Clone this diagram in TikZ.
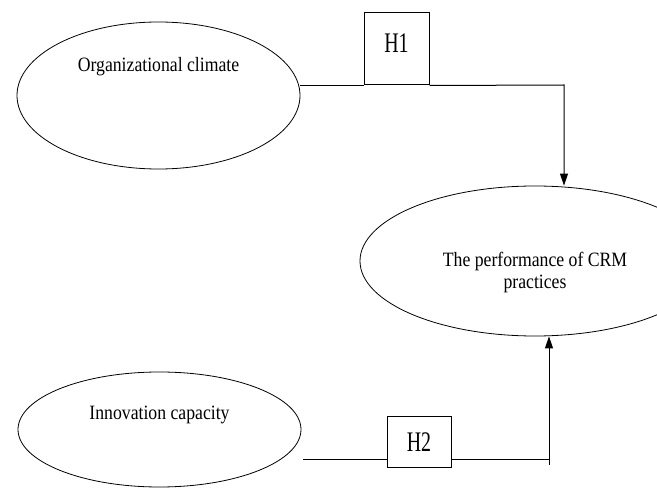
\documentclass[tikz,border=0pt]{standalone}
\usepackage{graphicx}
\usepackage{fontspec}
\setmainfont{Liberation Serif}
\usetikzlibrary{shapes.geometric,arrows.meta}

\newcommand\tall[1]{\scalebox{1}[1.15]{#1}}
\newcommand\taller[1]{\scalebox{0.95}[1.35]{#1}}

\begin{document}
\begin{tikzpicture}[x=1pt, y=1pt, line cap=butt,
  construct/.style={ellipse, draw, line width=0.8pt, inner sep=0pt},
  hypo/.style={rectangle, draw, line width=1pt, fill=white, inner sep=0pt},
  hypotxt/.style={inner sep=0pt, font=\fontsize{21}{24}\selectfont},
  txt/.style={align=center, inner sep=0pt, font=\fontsize{17.7}{22}\selectfont},
  link/.style={line width=1pt}]
  \useasboundingbox (0,0) rectangle (657,488);
  \clip (0,0) rectangle (657,488);
  % constructs
  \node[construct, minimum width=283pt, minimum height=147pt] (oc) at (158.5,392.5) {};
  \node[txt] (octext) at ([yshift=28.5pt]oc.center) {\tall{Organizational climate}};
  \node[construct, minimum width=350pt, minimum height=150pt] (crm) at (535,227) {};
  \node[txt] (crmtext) at ([yshift=-12pt]crm.center) {\tall{The performance of CRM}\\\tall{practices}};
  \node[construct, minimum width=283pt, minimum height=115pt] (ic) at (159.5,58.5) {};
  \node[txt] (ictext) at ([yshift=14.5pt]ic.center) {\tall{Innovation capacity}};
  % hypotheses
  \node[hypo, minimum width=65pt, minimum height=72pt] (h1) at (396.5,439) {};
  \node[hypotxt] (h1text) at ([yshift=6pt]h1.center) {\taller{H1}};
  \node[hypo, hypotxt, minimum width=64pt, minimum height=51pt] (h2) at (419,45.5) {\taller{H2}};
  % H1 path
  \coordinate (bend1) at (564,403);
  \draw[link] (h1.south -| oc.east) -- (h1.south west);
  \draw[link, -{Triangle[width=8pt,length=12pt]}]
    (h1.south east) -- (bend1) -- (bend1 |- crm.north);
  % H2 path
  \coordinate (icout) at (303,28);
  \coordinate (bend2) at (549,28);
  \draw[link] (icout) -- (icout -| h2.west);
  \draw[link] (icout -| h2.east) -- (bend2);
  \draw[link, -{Triangle[width=8pt,length=12pt]}]
    ([yshift=-5pt]bend2) -- (bend2 |- crm.south);
\end{tikzpicture}
\end{document}
